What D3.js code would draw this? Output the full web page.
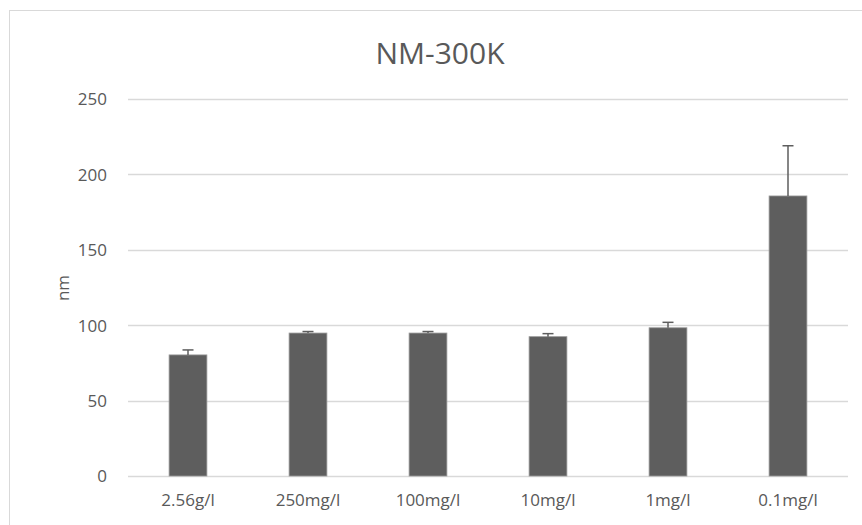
<!DOCTYPE html>
<html>
<head>
<meta charset="utf-8">
<script src="https://cdn.jsdelivr.net/npm/d3@7"></script>
<style>
  body { margin: 0; background: #fff; }
  text { font-family: "Open Sans", "Liberation Sans", sans-serif; fill: #595959; }
</style>
</head>
<body>
<script>
var categories = ["2.56g/l", "250mg/l", "100mg/l", "10mg/l", "1mg/l", "0.1mg/l"];
var values = [80.3, 94.8, 94.8, 92.4, 98.3, 185.7];
var errors = [3.3, 1.0, 1.0, 2.0, 3.6, 33.3];
var yTicks = [0, 50, 100, 150, 200, 250];

(function(){

var width = 862, height = 525;
var plotLeft = 128, plotRight = 848, plotTop = 99, plotBottom = 476;

var svg = d3.select("body").append("svg")
    .attr("width", width)
    .attr("height", height);

// outer chart border
svg.append("rect")
    .attr("x", 9.5).attr("y", 10.5)
    .attr("width", 880).attr("height", 540)
    .attr("fill", "none")
    .attr("stroke", "#d9d9d9");

var x = d3.scaleBand()
    .domain(categories)
    .range([plotLeft, plotRight])
    .paddingInner(0.685)
    .paddingOuter(0.3425);

var y = d3.scaleLinear()
    .domain([0, 250])
    .range([plotBottom, plotTop]);

// gridlines
svg.selectAll(".grid")
    .data(yTicks)
    .enter()
    .append("line")
    .attr("class", "grid")
    .attr("x1", plotLeft).attr("x2", plotRight)
    .attr("y1", function(d){ return Math.round(y(d)) + 0.5; })
    .attr("y2", function(d){ return Math.round(y(d)) + 0.5; })
    .attr("stroke", "#d9d9d9")
    .attr("stroke-width", 1.3);

// y axis labels
var yAxis = svg.append("g")
    .attr("transform", "translate(" + (plotLeft - 21) + ",0)")
    .call(d3.axisLeft(y).tickValues(yTicks).tickSize(0).tickPadding(0));
yAxis.select(".domain").remove();
yAxis.selectAll("text")
    .attr("font-size", 17)
    .attr("dy", "0.35em")
    .attr("fill", "#595959")
    .style("font-family", null);

// x axis labels
var xAxis = svg.append("g")
    .attr("transform", "translate(0," + plotBottom + ")")
    .call(d3.axisBottom(x).tickSize(0).tickPadding(0));
xAxis.select(".domain").remove();
xAxis.selectAll("text")
    .attr("font-size", 17)
    .attr("dy", "30px")
    .attr("fill", "#595959")
    .style("font-family", null);

// bars
svg.selectAll(".bar")
    .data(values)
    .enter()
    .append("rect")
    .attr("class", "bar")
    .attr("x", function(d, i){ return x(categories[i]); })
    .attr("y", function(d){ return y(d); })
    .attr("width", x.bandwidth())
    .attr("height", function(d){ return plotBottom - y(d); })
    .attr("fill", "#5e5e5e")
    .attr("stroke", "#9a9a9a")
    .attr("stroke-width", 0.8);

// error bars (plus direction only)
var err = svg.selectAll(".err")
    .data(values)
    .enter()
    .append("g")
    .attr("class", "err")
    .attr("transform", function(d, i){
        return "translate(" + (x(categories[i]) + x.bandwidth() / 2) + ",0)";
    });
err.append("line")
    .attr("x1", 0).attr("x2", 0)
    .attr("y1", function(d){ return y(d); })
    .attr("y2", function(d, i){ return y(d + errors[i]); })
    .attr("stroke", "#5e5e5e")
    .attr("stroke-width", 1.5);
err.append("line")
    .attr("x1", -5.5).attr("x2", 5.5)
    .attr("y1", function(d, i){ return y(d + errors[i]); })
    .attr("y2", function(d, i){ return y(d + errors[i]); })
    .attr("stroke", "#5e5e5e")
    .attr("stroke-width", 1.5);

// title
svg.append("text")
    .attr("x", 440).attr("y", 64)
    .attr("text-anchor", "middle")
    .attr("font-size", 30)
    .text("NM-300K");

// y axis title
svg.append("text")
    .attr("transform", "translate(69,288) rotate(-90)")
    .attr("text-anchor", "middle")
    .attr("font-size", 17)
    .text("nm");

})();
</script>
</body>
</html>
